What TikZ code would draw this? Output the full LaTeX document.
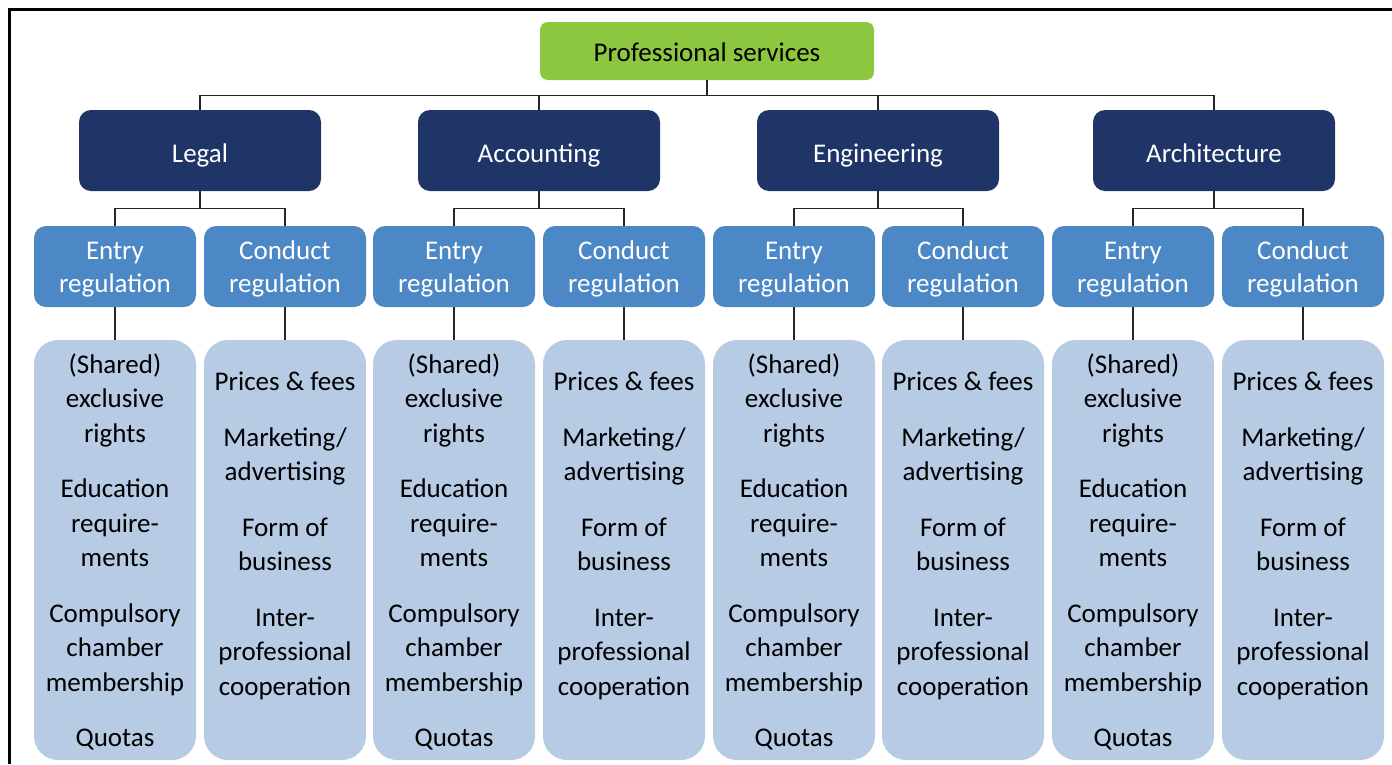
\documentclass[tikz,border=0pt]{standalone}
\usepackage{fontspec}
\setmainfont{Carlito}

\definecolor{profgreen}{RGB}{141,198,63}
\definecolor{catnavy}{RGB}{31,53,104}
\definecolor{regblue}{RGB}{76,135,198}
\definecolor{itemblue}{RGB}{183,203,229}

\newcommand{\entrylist}{(Shared)\\exclusive\\rights\\[21pt]Education\\require-\\ments\\[21pt]Compulsory\\chamber\\membership\\[21pt]Quotas}
\newcommand{\conductlist}{Prices \& fees\\[21pt]Marketing/\\advertising\\[21pt]Form of\\business\\[21pt]Inter-\\professional\\cooperation}

\tikzset{
  box/.style={rounded corners=#1, inner sep=0pt, align=center},
  rootbox/.style={box=8pt, fill=profgreen, minimum width=334pt, minimum height=58pt,
    text height=26pt, text depth=4.6pt},
  catbox/.style={box=12pt, fill=catnavy, text=white, minimum width=242pt, minimum height=81pt,
    text height=28pt, text depth=5pt},
  regbox/.style={box=12pt, fill=regblue, text=white, minimum width=162pt, minimum height=81pt},
  itembox/.style={box=24pt, fill=itemblue, minimum width=162pt, minimum height=420pt},
  itemtext/.style={inner sep=0pt, align=center, font=\fontsize{27}{34.5}\selectfont},
  link/.style={black!85, line width=1.3pt}
}

\begin{document}
\begin{tikzpicture}[x=1pt,y=1pt,
	every node/.style={font=\fontsize{27}{33}\selectfont}]
\useasboundingbox (0,0) rectangle (1392,-764);
\draw[line width=3pt] (9.5,-764) |- (1392,-9.5);

\node[rootbox] (prof) at (707,-51) {Professional services};

\foreach \c/\e/\k/\name/\i in {200/115/285/Legal/1, 539/454/624/Accounting/2,
	878/794/963/Engineering/3, 1214/1133/1303/Architecture/4}{
	\node[catbox] (cat\i) at (\c,-150.5) {\name};
	\node[regbox] (entry\i) at (\e,-266.5) {\strut Entry\\regulation};
	\node[regbox] (cond\i) at (\k,-266.5) {\strut Conduct\\regulation};
	\node[itembox] (entrybox\i) at (\e,-550) {};
	\node[itembox] (condbox\i) at (\k,-550) {};
	\node[itemtext] (entrytext\i) at (\e,-552) {\entrylist};
	\node[itemtext] (condtext\i) at (\k,-536) {\conductlist};
	% connectors
	\draw[link] (prof.south) -- ++(0,-15) -| (cat\i.north);
	\draw[link] (cat\i.south) -- ++(0,-17) -| (entry\i.north);
	\draw[link] (cat\i.south) -- ++(0,-17) -| (cond\i.north);
	\draw[link] (entry\i.south) -- (entrybox\i.north);
	\draw[link] (cond\i.south) -- (condbox\i.north);
}
\end{tikzpicture}
\end{document}
